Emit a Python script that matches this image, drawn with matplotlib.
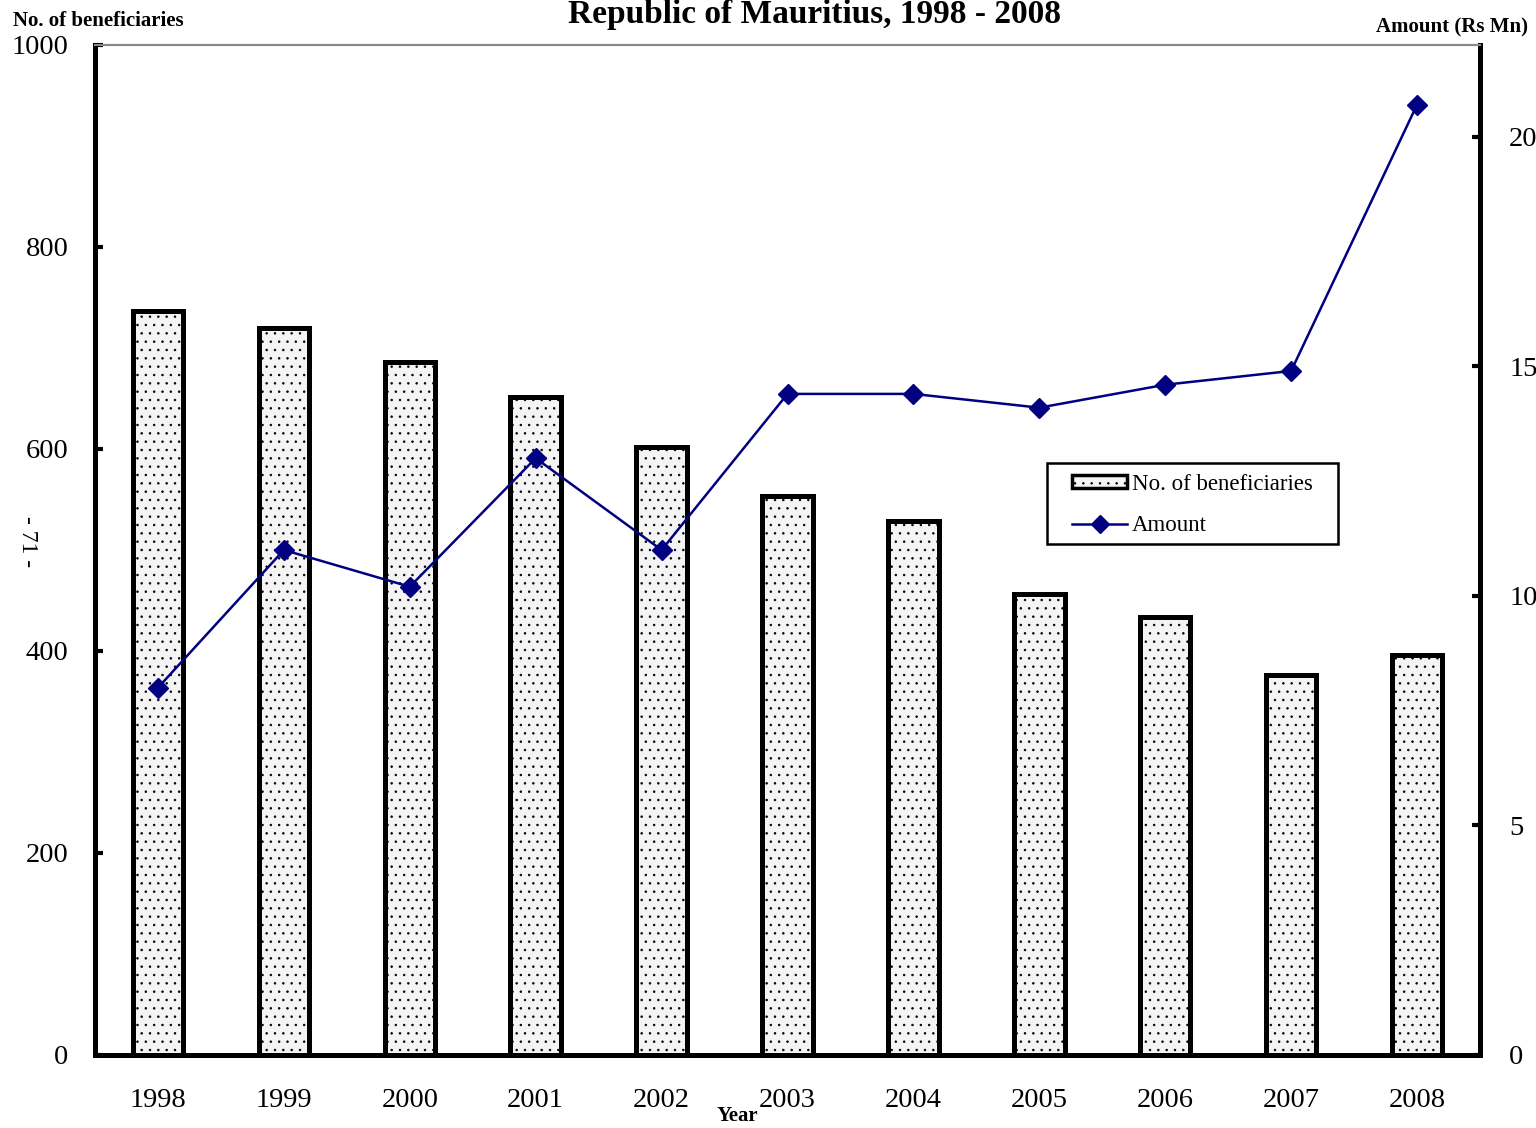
import matplotlib.pyplot as plt
from matplotlib.patches import Rectangle
import numpy as np

# data
years = ["1998", "1999", "2000", "2001", "2002", "2003",
         "2004", "2005", "2006", "2007", "2008"]
beneficiaries = [737, 720, 686, 651, 602, 553, 529, 456, 434, 376, 396]
amount = [8.0, 11.0, 10.2, 13.0, 11.0, 14.4, 14.4, 14.1, 14.6, 14.9, 20.7]

plt.rcParams['font.family'] = ['Liberation Serif', 'DejaVu Serif']
plt.rcParams['hatch.linewidth'] = 0.55

fig = plt.figure(figsize=(15.36, 11.28), dpi=100)
ax = fig.add_axes([95 / 1536, 1 - 1055 / 1128, 1385 / 1536, 1010 / 1128])
ax2 = ax.twinx()

x = np.arange(len(years))
bars = ax.bar(x, beneficiaries, width=0.40, facecolor="#f4f4f4",
              edgecolor="black", linewidth=3.6, hatch="..",
              label="No. of beneficiaries", zorder=2)
line, = ax2.plot(x, amount, color="#000080", linewidth=1.8, marker="D",
                 markersize=10.5, label="Amount", zorder=3)

ax.set_xlim(-0.5, len(years) - 0.5)
ax.set_ylim(0, 1000)
ax2.set_ylim(0, 22)
ax.set_yticks(range(0, 1001, 200))
ax2.set_yticks(range(0, 21, 5))
ax.set_xticks(x)
ax.set_xticklabels(years)

for a in (ax, ax2):
    for s in ("left", "right", "bottom"):
        a.spines[s].set_linewidth(3.6)
        a.spines[s].set_color("black")
    a.spines["top"].set_linewidth(1.5)
    a.spines["top"].set_color("#888888")

ax.tick_params(axis="y", direction="in", length=6, width=3, pad=19, labelsize=20.5)
ax2.tick_params(axis="y", direction="in", length=6, width=3, pad=21, labelsize=20.5)
ax.tick_params(axis="x", length=0, pad=24, labelsize=20.5)

fig.text(568 / 1536, 1 - 14 / 1128, "Republic of Mauritius, 1998 - 2008",
         fontsize=24, fontweight="bold", ha="left", va="center")
fig.text(13 / 1536, 1 - 21 / 1128, "No. of beneficiaries",
         fontsize=15, fontweight="bold", ha="left", va="center")
fig.text(1528 / 1536, 1 - 27 / 1128, "Amount (Rs Mn)",
         fontsize=15, fontweight="bold", ha="right", va="center")
fig.text(737 / 1536, 1 - 1116 / 1128, "Year",
         fontsize=15, fontweight="bold", ha="center", va="center")
fig.text(27 / 1536, 1 - 542 / 1128, "- 71 -", fontsize=17,
         rotation=-90, ha="center", va="center")

# legend box drawn separately so the padding matches
box = Rectangle((1047 / 1536, 1 - 544 / 1128), 291 / 1536, 81 / 1128,
                transform=fig.transFigure, facecolor="white",
                edgecolor="black", linewidth=1.8, zorder=5, clip_on=False)
ax2.add_patch(box)
leg = ax2.legend([bars, line], ["No. of beneficiaries", "Amount"],
                 loc="center left", bbox_to_anchor=(1072 / 1536, 1 - 505 / 1128),
                 bbox_transform=fig.transFigure, frameon=False,
                 fontsize=16.5, handlelength=2.4, handleheight=0.55,
                 borderpad=0, labelspacing=0.9, handletextpad=0.2,
                 borderaxespad=0, markerscale=0.85)
leg.set_zorder(10)
leg.legend_handles[0].set_linewidth(2.5)

fig.savefig("out.png", dpi=100)
